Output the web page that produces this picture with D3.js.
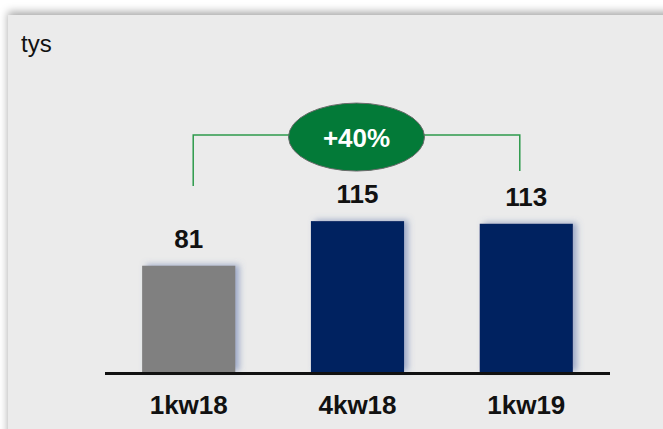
<!DOCTYPE html>
<html><head><meta charset="utf-8">
<script src="https://cdn.jsdelivr.net/npm/d3@7"></script>
<style>html,body{margin:0;padding:0;background:#fff;}svg{display:block;}</style>
</head><body>
<script>
const categories = ["1kw18", "4kw18", "1kw19"];
const values = [81, 115, 113];
const barColors = ["#808080", "#002060", "#002060"];
const unitLabel = "tys";
const changeLabel = "+40%";

const W = 663, H = 429;
const svg = d3.select("body").append("svg").attr("width", W).attr("height", H);
const defs = svg.append("defs");

const pf = defs.append("filter").attr("id", "panelShadow").attr("x", "-5%").attr("y", "-10%").attr("width", "110%").attr("height", "120%");
pf.append("feDropShadow").attr("dx", 0).attr("dy", -3).attr("stdDeviation", 4).attr("flood-color", "#000").attr("flood-opacity", 0.35);

const bf = defs.append("filter").attr("id", "barShadow").attr("x", "-20%").attr("y", "-20%").attr("width", "150%").attr("height", "140%");
bf.append("feDropShadow").attr("dx", 4).attr("dy", -1).attr("stdDeviation", 3).attr("flood-color", "#5a6fa8").attr("flood-opacity", 0.55);

svg.append("rect").attr("x", 8).attr("y", 15).attr("width", 700).attr("height", 440)
  .attr("fill", "#ebebeb").attr("filter", "url(#panelShadow)");

const x = d3.scaleBand().domain(categories).range([105, 610]).paddingInner(0.448).paddingOuter(0.22);
const y = d3.scaleLinear().domain([0, 200]).range([372, 372 - 262.4]);

const font = "Arial, 'Liberation Sans', sans-serif";

svg.append("text").attr("x", 21).attr("y", 51.5).attr("font-family", font).attr("font-size", 24)
  .attr("fill", "#111").text(unitLabel);

const data = categories.map((c, i) => ({c, v: values[i], col: barColors[i]}));

svg.selectAll("rect.bar").data(data).enter().append("rect").attr("class", "bar")
  .attr("x", d => x(d.c)).attr("width", x.bandwidth())
  .attr("y", d => y(d.v)).attr("height", d => y(0) - y(d.v))
  .attr("fill", d => d.col).attr("filter", "url(#barShadow)");

svg.selectAll("text.val").data(data).enter().append("text").attr("class", "val")
  .attr("x", d => x(d.c) + x.bandwidth() / 2).attr("y", d => y(d.v) - 18)
  .attr("text-anchor", "middle").attr("font-family", font).attr("font-weight", "bold")
  .attr("font-size", 26).attr("fill", "#111").text(d => d.v);

const axis = svg.append("g").attr("transform", `translate(0,${y(0)})`)
  .call(d3.axisBottom(x).tickSize(0).tickPadding(0));
axis.select(".domain").remove();
axis.append("line").attr("x1", 105).attr("x2", 610).attr("y1", 1.5).attr("y2", 1.5)
  .attr("stroke", "#111").attr("stroke-width", 3);
axis.selectAll(".tick text").attr("dy", null).attr("y", 42)
  .attr("font-family", font).attr("font-weight", "bold").attr("font-size", 26).attr("fill", "#111");

// bracket annotation
const cx = x(categories[1]) + x.bandwidth() / 2;
const lx = x(categories[0]) + x.bandwidth() / 2 + 4.5;
const rx = x(categories[2]) + x.bandwidth() / 2 - 6.5;
const by = y(180.6);
const green = "#2e9a4c";
svg.append("path").attr("d", `M${lx},${y(141.8)}V${by}H${cx}M${cx},${by}H${rx}V${y(153.2)}`)
  .attr("fill", "none").attr("stroke", green).attr("stroke-width", 1.5);
svg.append("ellipse").attr("cx", cx - 1).attr("cy", by + 2).attr("rx", 68).attr("ry", 34)
  .attr("fill", "#037a38").attr("stroke", "#6b6b6b").attr("stroke-width", 1);
svg.append("text").attr("x", cx - 1).attr("y", by + 12).attr("text-anchor", "middle")
  .attr("font-family", font).attr("font-weight", "bold").attr("font-size", 26).attr("fill", "#fff").text(changeLabel);
</script>
</body></html>
